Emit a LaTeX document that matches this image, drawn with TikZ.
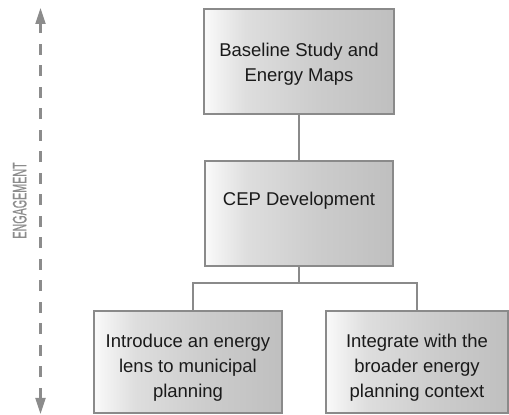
\documentclass[tikz,border=0pt]{standalone}
\usepackage{fontspec}
\setmainfont{Liberation Sans}
\newfontfamily\engfont[FakeBold=0.8]{Liberation Sans}
\usetikzlibrary{arrows.meta,calc}
\definecolor{edgegray}{HTML}{8A8A8A}
\definecolor{txtdark}{HTML}{1A1A1A}
\definecolor{enggray}{HTML}{8C8C8C}
\pgfdeclarehorizontalshading{boxshade}{100bp}{color(0bp)=(white!98!black); color(25bp)=(white!98!black); color(36bp)=(white!87!black); color(55bp)=(white!80!black); color(75bp)=(white!75!black); color(100bp)=(white!75!black)}
\tikzset{
  box/.style={draw=edgegray, line width=2pt, shading=boxshade, inner sep=0pt},
  boxtext/.style={text=txtdark, align=center, inner sep=0pt, font=\fontsize{18.5}{25}\selectfont},
  conn/.style={draw=edgegray, line width=2pt},
  engarrow/.style={draw=enggray, line width=2.2pt, dash pattern=on 11pt off 10.5pt,
    {Triangle[length=16pt,width=10pt]}-{Triangle[length=16pt,width=10pt]}}
}
\begin{document}
\begin{tikzpicture}[x=1pt,y=1pt]
\useasboundingbox (0,0) rectangle (509,415);
% boxes
\node[box, minimum width=190pt, minimum height=105pt] (base) at (299,353.5) {};
\node[box, minimum width=188pt, minimum height=105pt] (cep) at (299,201.5) {};
\node[box, minimum width=188pt, minimum height=102pt] (lens) at (188,53) {};
\node[box, minimum width=182pt, minimum height=102pt] (ctx) at (417,53) {};
% texts
\node[boxtext] (basetxt) at (299,351) {Baseline Study and\\Energy Maps};
\node[boxtext, anchor=base] (ceptxt) at (299,209.5) {CEP Development};
\node[boxtext] (lenstxt) at (188,47.5) {Introduce an energy\\lens to municipal\\planning};
\node[boxtext] (ctxtxt) at (417,47.5) {Integrate with the\\broader energy\\planning context};
% connectors
\coordinate (j) at (299,132);
\draw[conn] (base.south) -- (cep.north);
\draw[conn] (cep.south) -- (j);
\draw[conn] (j) -| ([xshift=5pt]lens.north);
\draw[conn] (j) -| (ctx.north);
% engagement arrow
\coordinate (etop) at (40.5,407);
\coordinate (ebot) at (40.5,1);
\draw[engarrow] (ebot) -- (etop);
\node[text=enggray, rotate=90, inner sep=0pt] (eng) at (19.7,214.5) {\scalebox{0.55}[1]{\fontsize{19.5}{20}\engfont ENGAGEMENT}};
\end{tikzpicture}
\end{document}
